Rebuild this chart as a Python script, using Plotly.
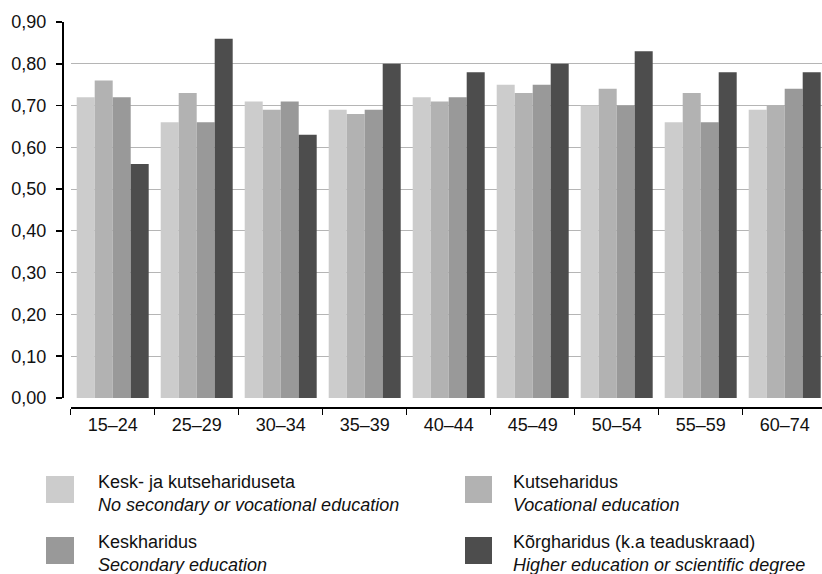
import plotly.graph_objects as go

categories = ["15–24", "25–29", "30–34", "35–39", "40–44", "45–49", "50–54", "55–59", "60–74"]
no_secondary = [0.72, 0.66, 0.71, 0.69, 0.72, 0.75, 0.70, 0.66, 0.69]
vocational = [0.76, 0.73, 0.69, 0.68, 0.71, 0.73, 0.74, 0.73, 0.70]
secondary = [0.72, 0.66, 0.71, 0.69, 0.72, 0.75, 0.70, 0.66, 0.74]
higher = [0.56, 0.86, 0.63, 0.80, 0.78, 0.80, 0.83, 0.78, 0.78]

series_et = ["Kesk- ja kutsehariduseta", "Kutseharidus", "Keskharidus", "Kõrgharidus (k.a teaduskraad)"]
series_en = ["No secondary or vocational education", "Vocational education",
             "Secondary education", "Higher education or scientific degree"]
colors = ["#CCCCCC", "#B2B2B2", "#999999", "#4D4D4D"]
y_ticks = [0.0, 0.1, 0.2, 0.3, 0.4, 0.5, 0.6, 0.7, 0.8, 0.9]

W, H = 822, 574
L, R, T, B = 63, 0, 22, 166
PW, PH = W - L - R, H - T - B

FONT = "Liberation Sans, Arial, sans-serif"

fig = go.Figure()
for vals, col, name in zip([no_secondary, vocational, secondary, higher], colors, series_et):
    fig.add_trace(go.Bar(x=categories, y=vals, name=name, marker=dict(color=col, line=dict(width=0)),
                         showlegend=False, hoverinfo="skip"))

def px_x(px):
    return (px - L) / PW

def px_y(py):
    return (H - B - py) / PH

x0 = (70.7 - L) / PW
y0 = (408 - 398) / PH

fig.update_layout(
    width=W, height=H,
    margin=dict(l=L, r=R, t=T, b=B, pad=0),
    paper_bgcolor="white", plot_bgcolor="white",
    barmode="group", bargap=12 / 84, bargroupgap=0,
    separators=", ",
    font=dict(family=FONT, size=18, color="#111111"),
    xaxis=dict(domain=[x0, 1], anchor="free", position=0,
               range=[-0.5, 8.5 - 4.7 / 84],
               showline=True, linecolor="#000000", linewidth=2,
               ticks="outside", tickson="boundaries", ticklen=6, tickwidth=1.5, tickcolor="#000000",
               showgrid=False, tickfont=dict(size=18, family=FONT, color="#111111")),
    yaxis=dict(domain=[y0, 1], anchor="free", position=0,
               range=[0, 0.9], tickvals=y_ticks, tickformat=".2f",
               showline=True, linecolor="#000000", linewidth=2,
               ticks="outside", ticklen=6, tickwidth=1.5, tickcolor="#000000",
               showgrid=True, gridcolor="#B5B5B5", gridwidth=1,
               zeroline=False, ticklabelstandoff=6,
               tickfont=dict(size=18, family=FONT, color="#111111")),
)

# custom legend
sw_x = [(46, 74), (465, 492), (46, 74), (465, 492)]
sw_y = [(476, 503), (476, 503), (537, 564), (537, 564)]
tx_x = [97, 512, 97, 512]
ty1 = [481.5, 481.5, 541.5, 541.5]
ty2 = [504.5, 504.5, 564.5, 564.5]
for i in range(4):
    fig.add_shape(type="rect", xref="paper", yref="paper",
                  x0=px_x(sw_x[i][0]), x1=px_x(sw_x[i][1]),
                  y0=px_y(sw_y[i][1]), y1=px_y(sw_y[i][0]),
                  fillcolor=colors[i], line=dict(width=0))
    fig.add_annotation(xref="paper", yref="paper", x=px_x(tx_x[i]), y=px_y(ty1[i]),
                       xanchor="left", yanchor="middle", showarrow=False, borderpad=0,
                       text=series_et[i], font=dict(size=18, family=FONT, color="#111111"))
    fig.add_annotation(xref="paper", yref="paper", x=px_x(tx_x[i]), y=px_y(ty2[i]),
                       xanchor="left", yanchor="middle", showarrow=False, borderpad=0,
                       text="<i>" + series_en[i] + "</i>", font=dict(size=18, family=FONT, color="#111111"))

fig.write_html("out.html", config={"displayModeBar": False, "staticPlot": True},
               post_script="document.body.style.margin='0';document.body.style.overflow='hidden';")
